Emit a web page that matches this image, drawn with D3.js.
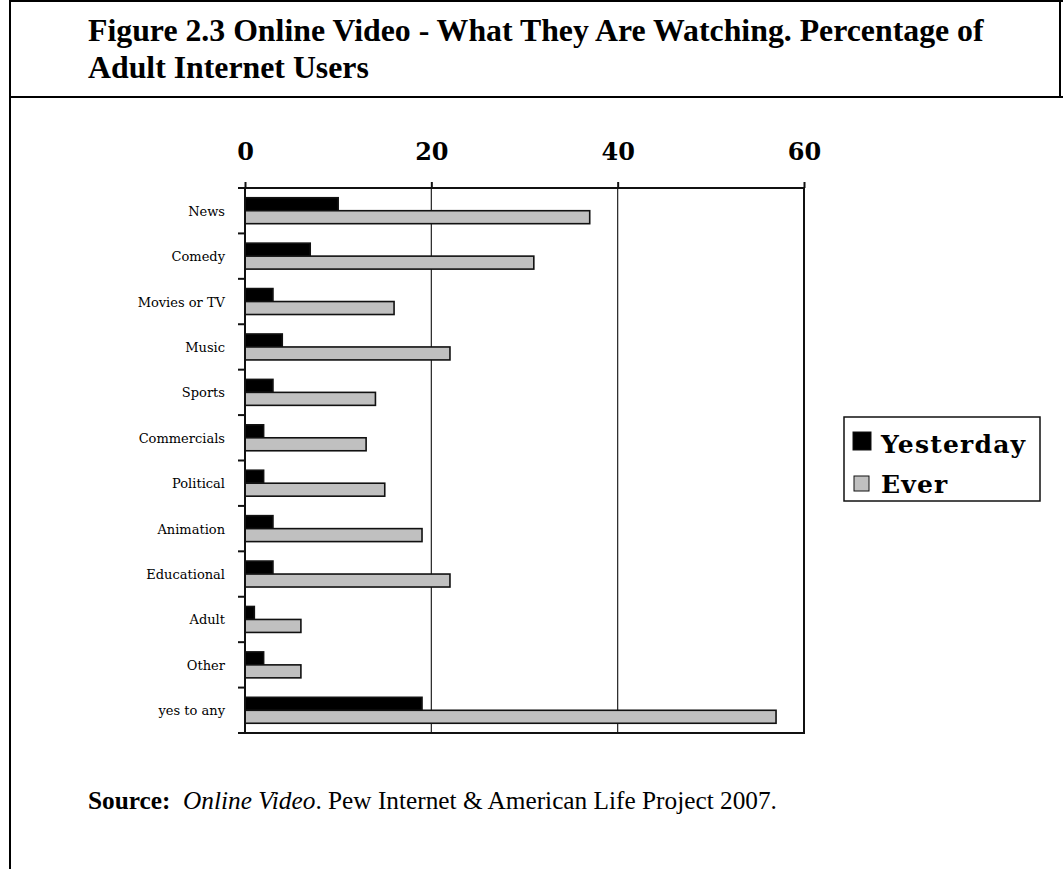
<!DOCTYPE html>
<html>
  <head>
    <meta charset="utf-8">
    <title>Online video - what they are watching</title>
    <script src="https://d3js.org/d3.v7.min.js"></script>
    <style>
      body { margin: 0; background: #fff; }
      svg { display: block; }
      .title { font-family: "Liberation Serif", serif; font-weight: bold; font-size: 31.8px; }
      .source { font-family: "Liberation Serif", serif; font-size: 25.3px; }
      .cat { font-family: "DejaVu Serif", serif; font-size: 13px; }
      .tick { font-family: "DejaVu Serif", serif; font-weight: bold; font-size: 24px; }
      .legend text { font-family: "DejaVu Serif", serif; font-weight: bold; font-size: 25px; letter-spacing: 1.2px; }
    </style>
  </head>
  <body>
    <svg id="chart" width="1063" height="869"></svg>
    <script>
      // data
      const categories = ["News", "Comedy", "Movies or TV", "Music", "Sports", "Commercials",
        "Political", "Animation", "Educational", "Adult", "Other", "yes to any"];
      const yesterday = [10, 7, 3, 4, 3, 2, 2, 3, 3, 1, 2, 19];
      const ever = [37, 31, 16, 22, 14, 13, 15, 19, 22, 6, 6, 57];
      const seriesNames = ["Yesterday", "Ever"];
      const seriesColors = ["#000000", "#c0c0c0"];
      const tickValues = [0, 20, 40, 60];

      const svg = d3.select("#chart");

      // page frame
      const frame = svg.append("g").attr("stroke", "#000").attr("stroke-width", 2);
      frame.append("line").attr("x1", 10).attr("x2", 1063).attr("y1", 1).attr("y2", 1);
      frame.append("line").attr("x1", 10).attr("x2", 10).attr("y1", 0).attr("y2", 869);
      frame.append("line").attr("x1", 1060).attr("x2", 1060).attr("y1", 0).attr("y2", 97);
      frame.append("line").attr("x1", 10).attr("x2", 1063).attr("y1", 97).attr("y2", 97);

      // title
      const title = svg.append("text").attr("class", "title");
      title.append("tspan").attr("x", 88).attr("y", 41)
        .text("Figure 2.3 Online Video - What They Are Watching. Percentage of");
      title.append("tspan").attr("x", 88).attr("y", 78)
        .text("Adult Internet Users");

      // scales
      const x = d3.scaleLinear().domain([0, 60]).range([245, 804]);
      const y = d3.scaleBand().domain(categories).range([188, 733]).padding(0);
      const y1 = d3.scaleBand().domain(seriesNames).range([0, y.bandwidth()])
        .paddingInner(0).paddingOuter(0.75);
      const rows = categories.map((c, i) => ({ cat: c, values: [yesterday[i], ever[i]] }));

      // gridlines at 20, 40
      svg.append("g").selectAll("line")
        .data(tickValues.filter(v => v > 0 && v < 60))
        .join("line")
          .attr("x1", d => x(d)).attr("x2", d => x(d))
          .attr("y1", 188).attr("y2", 733)
          .attr("stroke", "#222").attr("stroke-width", 1.2);

      // bars
      const groups = svg.append("g").selectAll("g")
        .data(rows)
        .join("g")
          .attr("transform", d => "translate(0," + y(d.cat) + ")");
      groups.selectAll("rect")
        .data(d => d.values.map((v, i) => ({ name: seriesNames[i], v: v, i: i })))
        .join("rect")
          .attr("x", x(0))
          .attr("y", d => y1(d.name))
          .attr("width", d => x(d.v) - x(0))
          .attr("height", y1.bandwidth())
          .attr("fill", d => seriesColors[d.i])
          .attr("stroke", "#111")
          .attr("stroke-width", 1.6);

      // plot border
      svg.append("rect")
        .attr("x", x(0)).attr("y", 188)
        .attr("width", x(60) - x(0)).attr("height", 733 - 188)
        .attr("fill", "none").attr("stroke", "#111").attr("stroke-width", 2);

      // top axis
      const xAxis = d3.axisTop(x).tickValues(tickValues).tickSize(6).tickPadding(22).tickSizeOuter(0);
      const gx = svg.append("g").attr("transform", "translate(0,188)").call(xAxis);
      gx.select(".domain").remove();
      gx.selectAll(".tick line").attr("stroke", "#111").attr("stroke-width", 2);
      gx.selectAll(".tick text").attr("class", "tick").attr("fill", "#000");

      // left axis: ticks at band edges, labels at band centres
      const edges = categories.map(c => y(c)).concat([y.range()[1]]);
      svg.append("g").selectAll("line")
        .data(edges)
        .join("line")
          .attr("x1", x(0) - 7).attr("x2", x(0))
          .attr("y1", d => d).attr("y2", d => d)
          .attr("stroke", "#111").attr("stroke-width", 2);
      svg.append("g").selectAll("text")
        .data(categories)
        .join("text")
          .attr("class", "cat")
          .attr("x", 225)
          .attr("y", d => y(d) + y.bandwidth() / 2 + 5)
          .attr("text-anchor", "end")
          .text(d => d);

      // legend
      const legend = svg.append("g").attr("class", "legend");
      legend.append("rect")
        .attr("x", 844).attr("y", 417).attr("width", 196).attr("height", 84)
        .attr("fill", "#fff").attr("stroke", "#111").attr("stroke-width", 1.5);
      const items = legend.selectAll("g")
        .data(seriesNames)
        .join("g")
          .attr("transform", (d, i) => "translate(853," + (432 + i * 42) + ")");
      items.append("rect")
        .attr("x", (d, i) => i ? 1 : 0).attr("y", (d, i) => i ? 2 : 0)
        .attr("width", (d, i) => i ? 15 : 18).attr("height", (d, i) => i ? 15 : 18)
        .attr("fill", (d, i) => seriesColors[i])
        .attr("stroke", "#111").attr("stroke-width", 1);
      items.append("text")
        .attr("x", 28).attr("y", (d, i) => i ? 19 : 21)
        .text(d => d);

      // source line
      const src = svg.append("text").attr("class", "source").attr("x", 88).attr("y", 809);
      src.append("tspan").attr("font-weight", "bold").text("Source:");
      src.append("tspan").attr("font-style", "italic").text("\u00a0 Online Video");
      src.append("tspan").text(". Pew Internet & American Life Project 2007.");
    </script>
  </body>
</html>
